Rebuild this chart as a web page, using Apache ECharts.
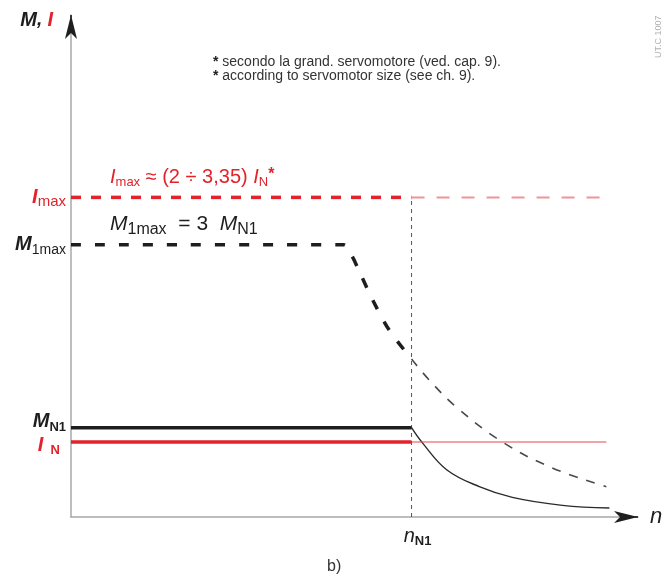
<!DOCTYPE html>
<html>
<head>
<meta charset="utf-8">
<script src="https://cdn.jsdelivr.net/npm/echarts@6/dist/echarts.min.js"></script>
<style>
html, body { margin: 0; padding: 0; background: #fff; }
#chart { width: 667px; height: 582px; }
</style>
</head>
<body>
<div id="chart"></div>
<script>
// units: n / nN1 on x, M / MN1 on y (axis ends at the arrow tips)
const nMax = 1.665;
const yMax = 5.623;
const nN1 = 1;

const iMax = 3.58;
const m1Max = 3.05;
const mN1 = 1;
const iN = 0.84;
const iMaxEnd = 1.575; // thin red dashed end
const iNEnd = 1.572;   // thin red solid end

// M1max: flat, then bending down to nN1
const mMaxHead = [[0, 3.05], [0.80, 3.05], [0.824, 2.93], [0.848, 2.74], [0.886, 2.43], [0.935, 2.09], [1, 1.77]];
// same curve past nN1 (thin dashed)
const mMaxTail = [[1, 1.77], [1.053, 1.53], [1.132, 1.23], [1.267, 0.84], [1.413, 0.55], [1.572, 0.34]];
// MN1 past nN1
const mN1Tail = [[1, 1], [1.032, 0.83], [1.103, 0.53], [1.199, 0.34], [1.296, 0.22], [1.443, 0.13], [1.581, 0.10]];

const yLabels = ['{i|I}{isub|max}', '{m|M}{sub|1max}', '{m|M}{subb|N1}\n{gap| }'];
const yLabelValues = [iMax, m1Max, mN1];

const FONT = '"Liberation Sans", Arial, sans-serif';
const RED = '#e2232b';
const BLACK = '#1e1e1e';

const chart = echarts.init(document.getElementById('chart'));

// rich styles shared by axis labels
const rich = {
  m: { fontFamily: FONT, fontSize: 20, fontStyle: 'italic', fontWeight: 'bold', color: BLACK },
  sub: { fontFamily: FONT, fontSize: 14, color: BLACK, verticalAlign: 'bottom', padding: [0, 0, -2, 0] },
  subb: { fontFamily: FONT, fontSize: 13, fontWeight: 'bold', color: BLACK, verticalAlign: 'bottom', padding: [0, 0, -2, 0] },
  i: { fontFamily: FONT, fontSize: 20, fontStyle: 'italic', fontWeight: 'bold', color: RED },
  isub: { fontFamily: FONT, fontSize: 15, color: RED, verticalAlign: 'bottom', padding: [0, 0, -2, 0] },
  isubb: { fontFamily: FONT, fontSize: 13, fontWeight: 'bold', color: RED, verticalAlign: 'bottom', padding: [0, 0, -2, 0] },
  gap: { fontSize: 4, lineHeight: 12 },
  g2: { fontSize: 4, lineHeight: 6 },
  n: { fontFamily: FONT, fontSize: 20, fontStyle: 'italic', color: BLACK },
  c: { fontFamily: FONT, fontSize: 19, fontStyle: 'italic', fontWeight: 'bold', color: BLACK },
};

function line(name, data, color, width, type, extra) {
  return Object.assign({
    name: name,
    type: 'line',
    data: data,
    symbol: 'none',
    silent: true,
    lineStyle: { color: color, width: width, type: type },
    z: 3,
  }, extra || {});
}

const axisBase = { type: 'value', min: 0, max: yMax, axisTick: { show: false }, splitLine: { show: false } };

chart.setOption({
  animation: false,
  backgroundColor: '#fff',
  grid: { left: 71, right: 29, top: 15, bottom: 65 },
  xAxis: {
    type: 'value',
    min: 0,
    max: nMax,
    name: 'n',
    nameLocation: 'end',
    nameGap: 12,
    nameTextStyle: { fontFamily: FONT, fontSize: 22, fontStyle: 'italic', color: BLACK, verticalAlign: 'middle', padding: [0, 0, 2, 0] },
    axisLine: { show: true, lineStyle: { color: '#a8a8a8', width: 1.5 } },
    axisTick: { show: false },
    splitLine: { show: false },
    axisLabel: {
      customValues: [nN1],
      margin: 9,
      padding: [0, 0, 0, 12],
      formatter: () => '{n|n}{subb|N1}',
      rich: rich,
    },
  },
  yAxis: [
    Object.assign({}, axisBase, {
      name: '{m|M}{c|, }{i|I}',
      nameLocation: 'end',
      nameGap: -5,
      nameTextStyle: { align: 'right', verticalAlign: 'middle', padding: [0, 18, 0, 0], rich: rich },
      axisLine: { show: true, lineStyle: { color: '#a8a8a8', width: 1.5 } },
      axisLabel: {
        customValues: yLabelValues,
        margin: 5,
        hideOverlap: false,
        formatter: (v) => {
          let k = 0;
          yLabelValues.forEach((y, j) => { if (Math.abs(y - v) < Math.abs(yLabelValues[k] - v)) k = j; });
          return yLabels[k];
        },
        rich: rich,
      },
    }),
    // second left axis only for the IN label (sits too close to MN1)
    Object.assign({}, axisBase, {
      position: 'left',
      axisLine: { show: false },
      axisLabel: {
        customValues: [iN],
        margin: 11,
        formatter: () => '{g2| }\n{i|I}{isubb|  N}',
        rich: rich,
      },
    }),
  ],
  series: [
    line('Imax', [[0, iMax], [nN1, iMax]], RED, 3.5, [10, 10]),
    line('Imax tail', [[nN1, iMax], [iMaxEnd, iMax]], '#ef9499', 2, [13, 12]),
    line('M1max', mMaxHead, BLACK, 3.5, [10, 14], { smooth: 0.3 }),
    line('M1max tail', mMaxTail, '#4a4a4a', 1.6, [9, 9], { smooth: 0.4 }),
    line('MN1', [[0, mN1], [nN1, mN1]], BLACK, 3.5, 'solid'),
    line('MN1 tail', mN1Tail, '#2a2a2a', 1.4, 'solid', { smooth: 0.4 }),
    line('IN', [[0, iN], [nN1, iN]], RED, 3.5, 'solid'),
    line('IN tail', [[nN1, iN], [iNEnd, iN]], '#e2474d', 1, 'solid'),
    line('nN1', [[nN1, 0], [nN1, iMax]], '#555', 1, [4, 4], {
      z: 2,
      clip: false,
      // axis arrowheads
      markLine: {
        silent: true,
        symbol: ['none', 'arrow'],
        symbolSize: [9, 24],
        label: { show: false },
        lineStyle: { color: BLACK, width: 1.5, type: 'solid' },
        data: [
          [{ coord: [nMax - 0.01, 0] }, { coord: [nMax, 0] }],
          [{ coord: [0, yMax - 0.03] }, { coord: [0, yMax] }],
        ],
      },
    }),
  ],
  graphic: [
    {
      type: 'text', left: 213, top: 55, silent: true,
      style: {
        text: '{s|*} secondo la grand. servomotore (ved. cap. 9).\n{s|*} according to servomotor size (see ch. 9).',
        fill: '#333',
        font: '14px ' + FONT,
        lineHeight: 14,
        rich: { s: { fontFamily: FONT, fontSize: 14, fontWeight: 'bold', fill: '#222' } },
      },
    },
    {
      type: 'text', left: 110, top: 167, silent: true,
      style: {
        text: '{i|I}{s|max}{t| ≈ (2 ÷ 3,35) }{i|I}{s|N}{st|*}',
        rich: {
          i: { fontFamily: FONT, fontSize: 20, fontStyle: 'italic', fill: RED },
          s: { fontFamily: FONT, fontSize: 13, fill: RED, verticalAlign: 'bottom', padding: [0, 0, -2, 0] },
          t: { fontFamily: FONT, fontSize: 20, fill: RED },
          st: { fontFamily: FONT, fontSize: 16, fontWeight: 'bold', fill: RED, verticalAlign: 'top' },
        },
      },
    },
    {
      type: 'text', left: 110, top: 214, silent: true,
      style: {
        text: '{m|M}{s|1max}{t|  = 3  }{m|M}{s|N1}',
        rich: {
          m: { fontFamily: FONT, fontSize: 21, fontStyle: 'italic', fill: BLACK },
          s: { fontFamily: FONT, fontSize: 16, fill: BLACK, verticalAlign: 'bottom', padding: [0, 0, -3, 0] },
          t: { fontFamily: FONT, fontSize: 21, fill: BLACK },
        },
      },
    },
    {
      type: 'text', left: 327, top: 559, silent: true,
      style: { text: 'b)', fill: '#333', font: '16px ' + FONT },
    },
    {
      type: 'text', x: 654, y: 58, rotation: Math.PI / 2, silent: true,
      style: { text: 'UT.C 1007', fill: '#b0b0b0', font: '9px ' + FONT },
    },
  ],
});
</script>
</body>
</html>
